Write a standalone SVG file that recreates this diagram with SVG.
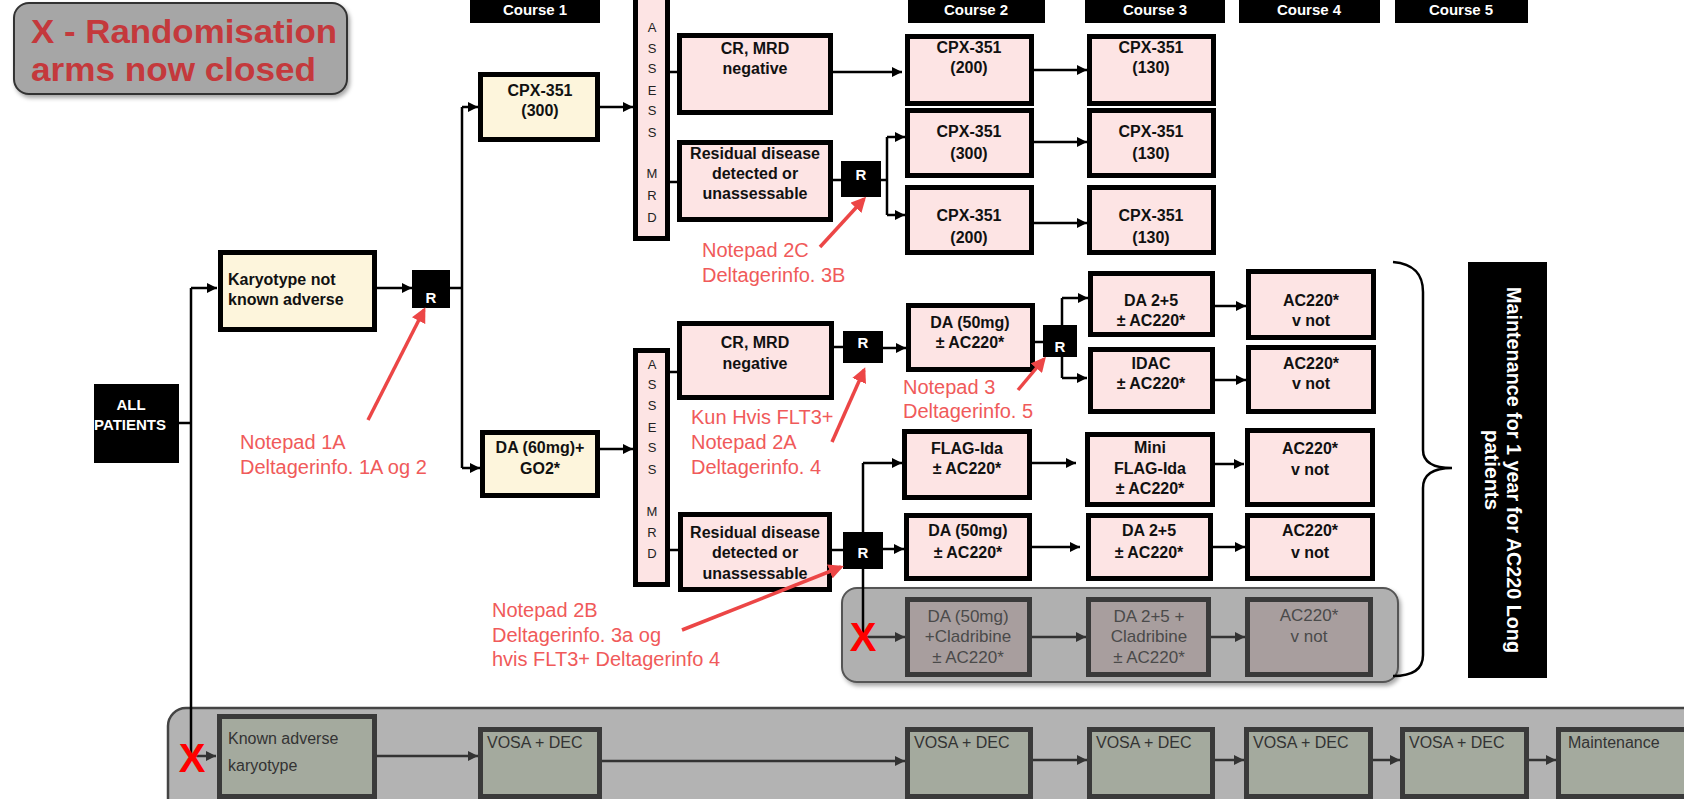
<svg xmlns="http://www.w3.org/2000/svg" width="1684" height="799" viewBox="0 0 1684 799">
<defs>
<marker id="ah" viewBox="0 0 10 10" refX="10" refY="5" markerWidth="10" markerHeight="10" markerUnits="userSpaceOnUse" orient="auto"><path d="M0,0 L10,5 L0,10 z" fill="#000"/></marker>
<marker id="ahg" viewBox="0 0 10 10" refX="10" refY="5" markerWidth="10" markerHeight="10" markerUnits="userSpaceOnUse" orient="auto"><path d="M0,0 L10,5 L0,10 z" fill="#333"/></marker>
<marker id="ahr" viewBox="0 0 10 10" refX="8" refY="5" markerWidth="15" markerHeight="15" markerUnits="userSpaceOnUse" orient="auto"><path d="M0,0 L10,5 L0,10 z" fill="#ec4646"/></marker>
<filter id="sh" x="-10%" y="-10%" width="130%" height="140%"><feDropShadow dx="2" dy="3" stdDeviation="2" flood-color="#000" flood-opacity="0.35"/></filter>
</defs>
<style>
.bx{stroke:#000;stroke-width:5}
.pk{fill:#fde4e4}
.cr{fill:#fdf5dc}
.blk{fill:#000}
.gb{fill:#a89e9e;stroke:#3a3a3a;stroke-width:5}
.bb{fill:#a4aa9e;stroke:#3a3a3a;stroke-width:5}
.t{font-family:"Liberation Sans",Arial,sans-serif;font-weight:bold;font-size:16px;fill:#111;text-anchor:middle}
.tl{font-family:"Liberation Sans",Arial,sans-serif;font-weight:bold;font-size:16px;fill:#111}
.tg{font-family:"Liberation Sans",Arial,sans-serif;font-size:17px;fill:#4a4a4a;text-anchor:middle}
.tb{font-family:"Liberation Sans",Arial,sans-serif;font-size:16px;fill:#333}
.tw{font-family:"Liberation Sans",Arial,sans-serif;font-weight:bold;fill:#fff;text-anchor:middle}
.as{font-family:"Liberation Sans",Arial,sans-serif;font-size:13px;fill:#222;text-anchor:middle}
.note{font-family:"Liberation Sans",Arial,sans-serif;font-size:20px;fill:#f05a5a}
.xr{font-family:"Liberation Sans",Arial,sans-serif;font-weight:bold;font-size:40px;fill:#ff0000;text-anchor:middle}
.lgt{font-family:"Liberation Sans",Arial,sans-serif;font-weight:bold;font-size:33px;fill:#c4393c}
.ln{fill:none;stroke:#000;stroke-width:2.5}
.lg{fill:none;stroke:#333;stroke-width:2.5}
.ra{fill:none;stroke:#ec4646;stroke-width:3.5}
</style>
<rect width="1684" height="799" fill="#fff"/>

<!-- containers -->
<g id="closed-arm-container"><rect x="842" y="588" width="556" height="94" rx="15" fill="#b0b0b0" stroke="#555" stroke-width="2" filter="url(#sh)"/></g>
<g id="bottom-container"><rect x="168" y="708" width="1560" height="120" rx="18" fill="#b3b3b3" stroke="#444" stroke-width="2.5"/></g>

<!-- legend -->
<g id="legend">
<rect x="14" y="3" width="333" height="91" rx="15" fill="#a6a6a6" stroke="#333" stroke-width="2" filter="url(#sh)"/>
<text x="31" y="43" class="lgt" textLength="306" lengthAdjust="spacingAndGlyphs">X - Randomisation</text>
<text x="31" y="81" class="lgt" textLength="285" lengthAdjust="spacingAndGlyphs">arms now closed</text>
</g>

<!-- headers -->
<g id="course1"><rect x="470" y="-3" width="130" height="26" class="blk"/><text x="535" y="15" class="tw" font-size="15">Course 1</text></g>
<g id="course2"><rect x="908" y="-3" width="137" height="26" class="blk"/><text x="976" y="15" class="tw" font-size="15">Course 2</text></g>
<g id="course3"><rect x="1085" y="-3" width="140" height="26" class="blk"/><text x="1155" y="15" class="tw" font-size="15">Course 3</text></g>
<g id="course4"><rect x="1239" y="-3" width="141" height="26" class="blk"/><text x="1309" y="15" class="tw" font-size="15">Course 4</text></g>
<g id="course5"><rect x="1395" y="-3" width="133" height="26" class="blk"/><text x="1461" y="15" class="tw" font-size="15">Course 5</text></g>

<!-- connectors -->
<g id="connectors">
<path class="ln" d="M179,423 H191 M191,288 V756"/>
<path class="ln" d="M191,288 H217" marker-end="url(#ah)"/>
<path class="lg" d="M191,756 H216" marker-end="url(#ahg)"/>
<path class="ln" d="M377,288 H412" marker-end="url(#ah)"/>
<path class="ln" d="M450,288 H462 M462,107 V468"/>
<path class="ln" d="M462,107 H478" marker-end="url(#ah)"/>
<path class="ln" d="M462,468 H480" marker-end="url(#ah)"/>
<path class="ln" d="M600,107 H633" marker-end="url(#ah)"/>
<path class="ln" d="M600,449 H633" marker-end="url(#ah)"/>
<path class="ln" d="M670,72 H677 M670,182 H677 M670,372 H677 M670,550 H678"/>
<path class="ln" d="M833,72 H902" marker-end="url(#ah)"/>
<path class="ln" d="M833,180 H841 M881,180 H887 M887,137 V215"/>
<path class="ln" d="M887,137 H905" marker-end="url(#ah)"/>
<path class="ln" d="M887,215 H905" marker-end="url(#ah)"/>
<path class="ln" d="M1034,70 H1087" marker-end="url(#ah)"/>
<path class="ln" d="M1034,142 H1087" marker-end="url(#ah)"/>
<path class="ln" d="M1034,223 H1087" marker-end="url(#ah)"/>
<path class="ln" d="M834,347 H843"/>
<path class="ln" d="M883,348 H906" marker-end="url(#ah)"/>
<path class="ln" d="M1035,342 H1043 M1062,298 V378"/>
<path class="ln" d="M1062,298 H1088" marker-end="url(#ah)"/>
<path class="ln" d="M1062,378 H1087" marker-end="url(#ah)"/>
<path class="ln" d="M1215,306 H1246" marker-end="url(#ah)"/>
<path class="ln" d="M1215,380 H1246" marker-end="url(#ah)"/>
<path class="ln" d="M863,463 V637"/>
<path class="ln" d="M863,463 H902" marker-end="url(#ah)"/>
<path class="ln" d="M1032,463 H1076" marker-end="url(#ah)"/>
<path class="ln" d="M1215,464 H1244" marker-end="url(#ah)"/>
<path class="ln" d="M832,550 H843"/>
<path class="ln" d="M883,549 H904" marker-end="url(#ah)"/>
<path class="ln" d="M1032,547 H1080" marker-end="url(#ah)"/>
<path class="ln" d="M1213,547 H1245" marker-end="url(#ah)"/>
<path class="lg" d="M863,637 H905" marker-end="url(#ahg)"/>
<path class="lg" d="M1032,637 H1086" marker-end="url(#ahg)"/>
<path class="lg" d="M1211,637 H1245" marker-end="url(#ahg)"/>
<path class="lg" d="M377,756 H478" marker-end="url(#ahg)"/>
<path class="lg" d="M602,761 H905" marker-end="url(#ahg)"/>
<path class="lg" d="M1033,760 H1087" marker-end="url(#ahg)"/>
<path class="lg" d="M1215,760 H1244" marker-end="url(#ahg)"/>
<path class="lg" d="M1373,760 H1400" marker-end="url(#ahg)"/>
<path class="lg" d="M1529,760 H1556" marker-end="url(#ahg)"/>
<path class="ln" d="M1393,262 C1415,264 1423,275 1423,292 V450 C1423,462 1432,468 1452,468 C1432,468 1423,475 1423,488 V655 C1423,670 1412,676 1393,676"/>
</g>

<!-- nodes -->
<g id="all-patients"><rect x="94" y="384" width="85" height="79" class="blk"/><text x="131" y="410" class="tw" font-size="15">ALL</text><text x="130" y="430" class="tw" font-size="15">PATIENTS</text></g>
<g id="karyotype-not-adverse"><rect x="220.5" y="252.5" width="154" height="77" class="bx cr"/><text x="228" y="285" class="tl">Karyotype not</text><text x="228" y="305" class="tl">known adverse</text></g>
<g id="r1"><rect x="412" y="270" width="38" height="38" class="blk"/><text x="431" y="303" class="tw" font-size="15">R</text></g>
<g id="cpx300"><rect x="480.5" y="74.5" width="117" height="65" class="bx cr"/><text x="540" y="96" class="t">CPX-351</text><text x="540" y="116" class="t">(300)</text></g>
<g id="da60"><rect x="482.5" y="432.5" width="115" height="63" class="bx cr"/><text x="540" y="453" class="t">DA (60mg)+</text><text x="540" y="474" class="t">GO2*</text></g>

<g id="assess1"><rect x="635.5" y="-2.5" width="32" height="241" class="bx pk"/>
<text class="as" x="652" y="32">A</text><text class="as" x="652" y="53">S</text><text class="as" x="652" y="73">S</text><text class="as" x="652" y="95">E</text><text class="as" x="652" y="115">S</text><text class="as" x="652" y="137">S</text><text class="as" x="652" y="178">M</text><text class="as" x="652" y="200">R</text><text class="as" x="652" y="222">D</text></g>
<g id="assess2"><rect x="635.5" y="350.5" width="32" height="234" class="bx pk"/>
<text class="as" x="652" y="369">A</text><text class="as" x="652" y="389">S</text><text class="as" x="652" y="410">S</text><text class="as" x="652" y="432">E</text><text class="as" x="652" y="452">S</text><text class="as" x="652" y="474">S</text><text class="as" x="652" y="516">M</text><text class="as" x="652" y="537">R</text><text class="as" x="652" y="558">D</text></g>

<g id="cr-top"><rect x="679.5" y="35.5" width="151" height="77" class="bx pk"/><text x="755" y="54" class="t">CR, MRD</text><text x="755" y="74" class="t">negative</text></g>
<g id="res-top"><rect x="679.5" y="142.5" width="151" height="77" class="bx pk"/><text x="755" y="159" class="t">Residual disease</text><text x="755" y="179" class="t">detected or</text><text x="755" y="199" class="t">unassessable</text></g>
<g id="r-top"><rect x="841" y="161" width="40" height="36" class="blk"/><text x="861" y="180" class="tw" font-size="15">R</text></g>

<g id="c2-r1"><rect x="907.5" y="36.5" width="124" height="67" class="bx pk"/><text x="969" y="53" class="t">CPX-351</text><text x="969" y="73" class="t">(200)</text></g>
<g id="c2-r2"><rect x="907.5" y="110.5" width="124" height="65" class="bx pk"/><text x="969" y="137" class="t">CPX-351</text><text x="969" y="159" class="t">(300)</text></g>
<g id="c2-r3"><rect x="907.5" y="187.5" width="124" height="65" class="bx pk"/><text x="969" y="221" class="t">CPX-351</text><text x="969" y="243" class="t">(200)</text></g>
<g id="c3-r1"><rect x="1089.5" y="36.5" width="124" height="67" class="bx pk"/><text x="1151" y="53" class="t">CPX-351</text><text x="1151" y="73" class="t">(130)</text></g>
<g id="c3-r2"><rect x="1089.5" y="110.5" width="124" height="65" class="bx pk"/><text x="1151" y="137" class="t">CPX-351</text><text x="1151" y="159" class="t">(130)</text></g>
<g id="c3-r3"><rect x="1089.5" y="187.5" width="124" height="65" class="bx pk"/><text x="1151" y="221" class="t">CPX-351</text><text x="1151" y="243" class="t">(130)</text></g>

<g id="cr-2"><rect x="679.5" y="323.5" width="152" height="74" class="bx pk"/><text x="755" y="348" class="t">CR, MRD</text><text x="755" y="369" class="t">negative</text></g>
<g id="r2"><rect x="843" y="331" width="40" height="32" class="blk"/><text x="863" y="348" class="tw" font-size="15">R</text></g>
<g id="da50"><rect x="908.5" y="305.5" width="124" height="64" class="bx pk"/><text x="970" y="328" class="t">DA (50mg)</text><text x="970" y="348" class="t">± AC220*</text></g>
<g id="r3"><rect x="1043" y="325" width="34" height="32" class="blk"/><text x="1060" y="352" class="tw" font-size="15">R</text></g>
<g id="da25"><rect x="1090.5" y="273.5" width="122" height="61" class="bx pk"/><text x="1151" y="306" class="t">DA 2+5</text><text x="1151" y="326" class="t">± AC220*</text></g>
<g id="idac"><rect x="1090.5" y="349.5" width="122" height="62" class="bx pk"/><text x="1151" y="369" class="t">IDAC</text><text x="1151" y="389" class="t">± AC220*</text></g>
<g id="ac1"><rect x="1248.5" y="271.5" width="125" height="66" class="bx pk"/><text x="1311" y="306" class="t">AC220*</text><text x="1311" y="326" class="t">v not</text></g>
<g id="ac2"><rect x="1248.5" y="347.5" width="125" height="64" class="bx pk"/><text x="1311" y="369" class="t">AC220*</text><text x="1311" y="389" class="t">v not</text></g>
<g id="flag"><rect x="904.5" y="431.5" width="125" height="66" class="bx pk"/><text x="967" y="454" class="t">FLAG-Ida</text><text x="967" y="474" class="t">± AC220*</text></g>
<g id="mini"><rect x="1087.5" y="434.5" width="125" height="70" class="bx pk"/><text x="1150" y="453" class="t">Mini</text><text x="1150" y="474" class="t">FLAG-Ida</text><text x="1150" y="494" class="t">± AC220*</text></g>
<g id="ac3"><rect x="1247.5" y="430.5" width="125" height="74" class="bx pk"/><text x="1310" y="454" class="t">AC220*</text><text x="1310" y="475" class="t">v not</text></g>
<g id="res-2"><rect x="680.5" y="514.5" width="149" height="75" class="bx pk"/><text x="755" y="538" class="t">Residual disease</text><text x="755" y="558" class="t">detected or</text><text x="755" y="579" class="t">unassessable</text></g>
<g id="r4"><rect x="843" y="532" width="40" height="37" class="blk"/><text x="863" y="558" class="tw" font-size="15">R</text></g>
<g id="da50-2"><rect x="906.5" y="515.5" width="123" height="63" class="bx pk"/><text x="968" y="536" class="t">DA (50mg)</text><text x="968" y="558" class="t">± AC220*</text></g>
<g id="da25-2"><rect x="1088.5" y="515.5" width="122" height="63" class="bx pk"/><text x="1149" y="536" class="t">DA 2+5</text><text x="1149" y="558" class="t">± AC220*</text></g>
<g id="ac4"><rect x="1247.5" y="515.5" width="125" height="63" class="bx pk"/><text x="1310" y="536" class="t">AC220*</text><text x="1310" y="558" class="t">v not</text></g>

<g id="grey-da50"><rect x="907.5" y="599.5" width="122" height="75" class="gb"/><text x="968" y="622" class="tg">DA (50mg)</text><text x="968" y="642" class="tg">+Cladribine</text><text x="968" y="663" class="tg">± AC220*</text></g>
<g id="grey-da25"><rect x="1088.5" y="599.5" width="120" height="75" class="gb"/><text x="1149" y="622" class="tg">DA 2+5  +</text><text x="1149" y="642" class="tg">Cladribine</text><text x="1149" y="663" class="tg">± AC220*</text></g>
<g id="grey-ac"><rect x="1247.5" y="599.5" width="123" height="75" class="gb"/><text x="1309" y="621" class="tg">AC220*</text><text x="1309" y="642" class="tg">v not</text></g>

<g id="maintenance-bar"><rect x="1468" y="262" width="79" height="416" fill="#000"/>
<g transform="translate(1507,470) rotate(90)"><text x="0" y="0" class="tw" font-size="21" textLength="366" lengthAdjust="spacingAndGlyphs">Maintenance for 1 year for AC220 Long</text><text x="0" y="22" class="tw" font-size="21">patients</text></g></g>

<g id="known-adverse"><rect x="219.5" y="716.5" width="155" height="80" class="bb"/><text x="228" y="744" class="tb" font-size="17">Known adverse</text><text x="228" y="771" class="tb" font-size="17">karyotype</text></g>
<g id="vosa1"><rect x="480.5" y="729.5" width="119" height="67" class="bb"/><text x="487" y="748" class="tb">VOSA + DEC</text></g>
<g id="vosa2"><rect x="907.5" y="729.5" width="123" height="67" class="bb"/><text x="914" y="748" class="tb">VOSA + DEC</text></g>
<g id="vosa3"><rect x="1089.5" y="729.5" width="123" height="67" class="bb"/><text x="1096" y="748" class="tb">VOSA + DEC</text></g>
<g id="vosa4"><rect x="1246.5" y="729.5" width="124" height="67" class="bb"/><text x="1253" y="748" class="tb">VOSA + DEC</text></g>
<g id="vosa5"><rect x="1402.5" y="729.5" width="124" height="67" class="bb"/><text x="1409" y="748" class="tb">VOSA + DEC</text></g>
<g id="maintenance"><rect x="1558.5" y="729.5" width="150" height="67" class="bb"/><text x="1568" y="748" class="tb">Maintenance</text></g>

<!-- notes -->
<g id="notes">
<text class="note" x="240" y="449">Notepad 1A</text>
<text class="note" x="240" y="474">Deltagerinfo. 1A og 2</text>
<text class="note" x="702" y="257">Notepad 2C</text>
<text class="note" x="702" y="282">Deltagerinfo. 3B</text>
<text class="note" x="691" y="424">Kun Hvis FLT3+</text>
<text class="note" x="691" y="449">Notepad 2A</text>
<text class="note" x="691" y="474">Deltagerinfo. 4</text>
<text class="note" x="903" y="394" font-size="18">Notepad 3</text>
<text class="note" x="903" y="418" font-size="18">Deltagerinfo. 5</text>
<text class="note" x="492" y="617">Notepad 2B</text>
<text class="note" x="492" y="642">Deltagerinfo. 3a og</text>
<text class="note" x="492" y="666">hvis FLT3+ Deltagerinfo 4</text>
</g>
<g id="note-arrows">
<path class="ra" d="M368,420 L424,310" marker-end="url(#ahr)"/>
<path class="ra" d="M820,247 L864,199" marker-end="url(#ahr)"/>
<path class="ra" d="M832,442 L864,370" marker-end="url(#ahr)"/>
<path class="ra" d="M1018,390 L1044,359" marker-end="url(#ahr)"/>
<path class="ra" d="M682,630 L841,567" marker-end="url(#ahr)"/>
</g>
<g id="closed-marks">
<text class="xr" x="863" y="651">X</text>
<text class="xr" x="192" y="772">X</text>
</g>
</svg>
